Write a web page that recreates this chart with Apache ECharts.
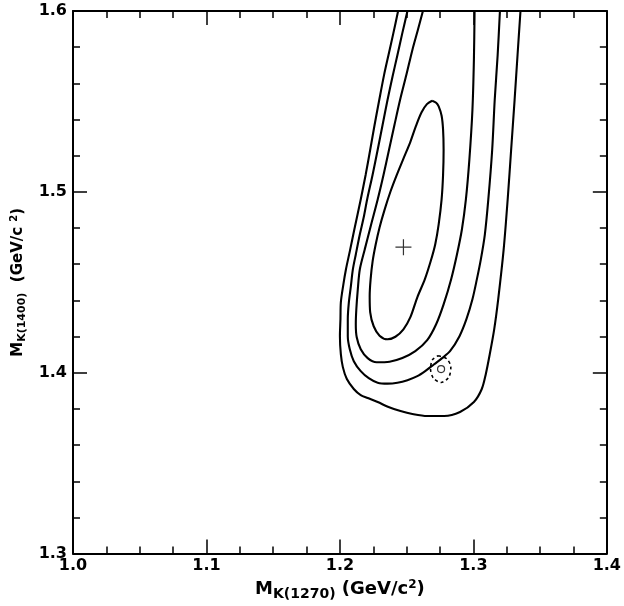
<!DOCTYPE html>
<html>
<head>
<meta charset="utf-8">
<script src="https://cdn.jsdelivr.net/npm/echarts@6/dist/echarts.min.js"></script>
<style>
  html, body { margin: 0; padding: 0; background: #fff; }
  #chart { width: 624px; height: 606px; }
</style>
</head>
<body>
<div id="chart"></div>
<script>
// Contour lines, [M_K(1270), M_K(1400)] in GeV/c^2.
const contorno1 = [
    [1.2691, 1.5504], [1.2721, 1.5493], [1.2740, 1.5473], [1.2762, 1.5421], [1.2773, 1.5344],
    [1.2777, 1.5233], [1.2773, 1.5095], [1.2762, 1.4958], [1.2740, 1.4820], [1.2714, 1.4709],
    [1.2680, 1.4616], [1.2636, 1.4516], [1.2580, 1.4417], [1.2528, 1.4307], [1.2476, 1.4240],
    [1.2416, 1.4199], [1.2357, 1.4185], [1.2297, 1.4205], [1.2253, 1.4257], [1.2227, 1.4334],
    [1.2223, 1.4422], [1.2230, 1.4516], [1.2245, 1.4616], [1.2268, 1.4709], [1.2297, 1.4803],
    [1.2335, 1.4902], [1.2379, 1.5002], [1.2424, 1.5090], [1.2476, 1.5184], [1.2528, 1.5277],
    [1.2570, 1.5365], [1.2612, 1.5440], [1.2652, 1.5485], [1.2691, 1.5504]
];

const contorno2 = [
    [1.3009, 1.6000], [1.3004, 1.5730], [1.2993, 1.5454], [1.2970, 1.5178], [1.2944, 1.4958],
    [1.2914, 1.4792], [1.2877, 1.4654], [1.2833, 1.4516], [1.2777, 1.4378], [1.2721, 1.4268],
    [1.2654, 1.4180], [1.2565, 1.4119], [1.2468, 1.4081], [1.2372, 1.4061], [1.2275, 1.4058],
    [1.2208, 1.4081], [1.2156, 1.4130], [1.2126, 1.4196], [1.2119, 1.4268], [1.2123, 1.4351],
    [1.2134, 1.4461], [1.2149, 1.4571], [1.2186, 1.4682], [1.2234, 1.4820], [1.2283, 1.4958],
    [1.2327, 1.5095], [1.2368, 1.5233], [1.2409, 1.5371], [1.2451, 1.5509], [1.2498, 1.5647],
    [1.2543, 1.5785], [1.2584, 1.5895], [1.2622, 1.6000]
];

const contorno3 = [
    [1.3199, 1.6000], [1.3182, 1.5757], [1.3160, 1.5509], [1.3141, 1.5233], [1.3112, 1.4958],
    [1.3086, 1.4764], [1.3056, 1.4627], [1.3026, 1.4516], [1.2993, 1.4406], [1.2948, 1.4296],
    [1.2896, 1.4202], [1.2825, 1.4119], [1.2766, 1.4081], [1.2706, 1.4047], [1.2639, 1.4009],
    [1.2580, 1.3981], [1.2506, 1.3959], [1.2431, 1.3945], [1.2357, 1.3940], [1.2283, 1.3945],
    [1.2216, 1.3970], [1.2156, 1.4009], [1.2104, 1.4064], [1.2074, 1.4130], [1.2059, 1.4202],
    [1.2059, 1.4296], [1.2067, 1.4389], [1.2082, 1.4478], [1.2097, 1.4571], [1.2119, 1.4654],
    [1.2149, 1.4764], [1.2178, 1.4858], [1.2204, 1.4958], [1.2245, 1.5095], [1.2283, 1.5233],
    [1.2320, 1.5371], [1.2357, 1.5509], [1.2394, 1.5636], [1.2431, 1.5757], [1.2468, 1.5879],
    [1.2506, 1.6000]
];

const contorno4 = [
    [1.3353, 1.6000], [1.3331, 1.5757], [1.3309, 1.5509], [1.3283, 1.5233], [1.3257, 1.4958],
    [1.3227, 1.4682], [1.3186, 1.4406], [1.3156, 1.4240], [1.3123, 1.4103], [1.3093, 1.3992],
    [1.3063, 1.3910], [1.3004, 1.3838], [1.2900, 1.3783], [1.2781, 1.3761], [1.2654, 1.3761],
    [1.2543, 1.3772], [1.2454, 1.3788], [1.2364, 1.3810], [1.2283, 1.3838], [1.2208, 1.3860],
    [1.2156, 1.3876], [1.2104, 1.3910], [1.2052, 1.3965], [1.2022, 1.4031], [1.2007, 1.4103],
    [1.2000, 1.4202], [1.2004, 1.4296], [1.2007, 1.4389], [1.2026, 1.4489], [1.2045, 1.4571],
    [1.2074, 1.4671], [1.2108, 1.4792], [1.2156, 1.4958], [1.2193, 1.5095], [1.2227, 1.5233],
    [1.2260, 1.5371], [1.2295, 1.5509], [1.2331, 1.5647], [1.2364, 1.5757], [1.2401, 1.5879],
    [1.2436, 1.6000]
];

// small dashed contour round the second point
const contornoPunteado = [
    [1.2736, 1.4094], [1.2800, 1.4077], [1.2831, 1.4031], [1.2816, 1.3976], [1.2758, 1.3946],
    [1.2701, 1.3970], [1.2679, 1.4020], [1.2693, 1.4071], [1.2736, 1.4094]
];

const mejorAjuste = [[1.2476, 1.4694]];   // "+"
const puntoAlterno = [[1.2758, 1.4020]];  // small open circle

const ticksX = [1.0, 1.1, 1.2, 1.3, 1.4];
const ticksY = [1.3, 1.4, 1.5, 1.6];

const FUENTE = '"DejaVu Sans", Verdana, sans-serif';

// rich styles for the axis titles (sub/superscripts)
function richTitulo(tam) {
    return {
        m: { fontFamily: FUENTE, fontWeight: 'bold', fontSize: tam, color: '#000' },
        sub: { fontFamily: FUENTE, fontWeight: 'bold', fontSize: Math.round(tam * 0.75), color: '#000', padding: [Math.round(tam * 0.55), 0, 0, 0] },
        sup: { fontFamily: FUENTE, fontWeight: 'bold', fontSize: Math.round(tam * 0.68), color: '#000', padding: [0, 0, Math.round(tam * 0.5), 0] }
    };
}

function ejeBase(tipo, ticks, partes, conEtiquetas, posicion) {
    return {
        type: 'value',
        position: posicion,
        min: ticks[0],
        max: ticks[ticks.length - 1],
        interval: 0.1,
        axisLine: { show: true, onZero: false, lineStyle: { color: '#000', width: 2 } },
        axisTick: { show: true, inside: true, length: 14, lineStyle: { color: '#000', width: 1.5 } },
        minorTick: { show: true, splitNumber: partes, length: 7, lineStyle: { color: '#000', width: 1.5 } },
        splitLine: { show: false },
        axisLabel: {
            show: conEtiquetas,
            margin: tipo === 'x' ? 4 : 6,
            fontFamily: FUENTE,
            fontWeight: 'bold',
            fontSize: 16,
            color: '#000',
            formatter: v => v.toFixed(1)
        }
    };
}

function lineaContorno(datos, punteada) {
    return {
        type: 'line',
        data: datos,
        xAxisIndex: 0,
        yAxisIndex: 0,
        showSymbol: false,
        symbol: 'none',
        smooth: 0.3,
        lineStyle: { color: '#000', width: punteada ? 1.6 : 2.1, type: punteada ? [3, 3] : 'solid' },
        silent: true
    };
}

const chart = echarts.init(document.getElementById('chart'));

const ejeX = ejeBase('x', ticksX, 4, true, 'bottom');
ejeX.name = '{m|M}{sub|K(1270)}{m| (GeV/c}{sup|2}{m|)}';
ejeX.nameLocation = 'middle';
ejeX.nameGap = 17;
ejeX.nameTextStyle = { rich: richTitulo(18) };

const ejeY = ejeBase('y', ticksY, 5, true, 'left');
ejeY.name = '{m|M}{sub|K(1400)}{m|  (GeV/c }{sup|2}{m|)}';
ejeY.nameLocation = 'middle';
ejeY.nameRotate = 90;
ejeY.nameGap = 23;
ejeY.nameTextStyle = { rich: richTitulo(15) };

const option = {
    animation: false,
    backgroundColor: '#fff',
    grid: { left: 73, right: 13, top: 11, bottom: 51 },
    xAxis: [ejeX, ejeBase('x', ticksX, 4, false, 'top')],
    yAxis: [ejeY, ejeBase('y', ticksY, 5, false, 'right')],
    series: [
        lineaContorno(contorno1, false),
        lineaContorno(contorno2, false),
        lineaContorno(contorno3, false),
        lineaContorno(contorno4, false),
        lineaContorno(contornoPunteado, true),
        {
            type: 'scatter',
            data: mejorAjuste,
            symbol: 'path://M7.4,0h1.2v16h-1.2zM0,7.4h16v1.2h-16z',
            symbolSize: 16,
            itemStyle: { color: '#000' },
            silent: true
        },
        {
            type: 'scatter',
            data: puntoAlterno,
            symbol: 'circle',
            symbolSize: 7,
            itemStyle: { color: '#fff', borderColor: '#000', borderWidth: 1.2 },
            silent: true
        }
    ]
};

chart.setOption(option);
</script>
</body>
</html>
